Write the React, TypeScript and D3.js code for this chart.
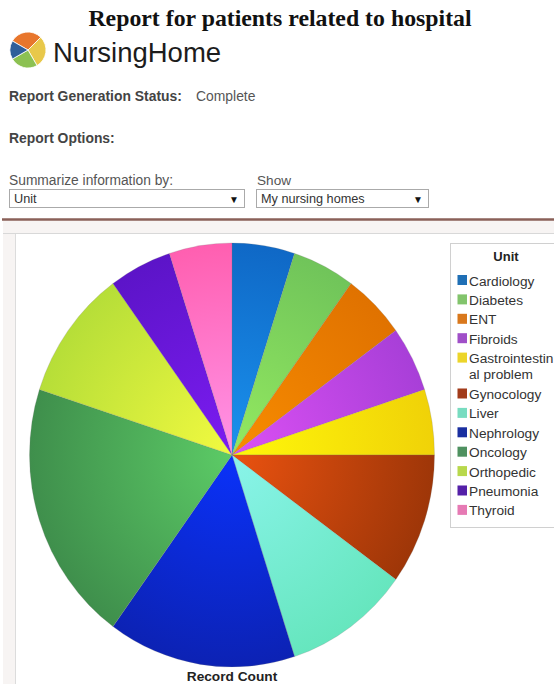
import * as d3 from "d3";

const width = 554;
const height = 684;

const units = [
  "Cardiology",
  "Diabetes",
  "ENT",
  "Fibroids",
  "Gastrointestinal problem",
  "Gynocology",
  "Liver",
  "Nephrology",
  "Oncology",
  "Orthopedic",
  "Pneumonia",
  "Thyroid",
];
const recordCounts = [1, 1, 1, 1, 1, 2, 2, 3, 4, 2, 1, 1];
// each slice is lighter at the hub and darker at the rim
const hubColors = [
  "#1a92ee",
  "#94ea60",
  "#f88c00",
  "#dc50f4",
  "#fff80a",
  "#ea5210",
  "#8af4ea",
  "#0a32fa",
  "#5ccb66",
  "#f2fa40",
  "#7c1cf2",
  "#ff94e8",
];
const rimColors = [
  "#0f68c6",
  "#70c45a",
  "#e07200",
  "#a83fd8",
  "#f0d208",
  "#9e3608",
  "#66e6be",
  "#0c22b4",
  "#3f8f4c",
  "#b6de38",
  "#5c14c8",
  "#ff5fb0",
];
const legendColors = [
  "#1f6fb5",
  "#82c46c",
  "#d9781c",
  "#a04fc8",
  "#ecd52a",
  "#a23b1a",
  "#78dcc0",
  "#1a2fa0",
  "#4f9160",
  "#b8d84c",
  "#5420a8",
  "#e67ab4",
];
const legendLines = [
  ["Cardiology"],
  ["Diabetes"],
  ["ENT"],
  ["Fibroids"],
  ["Gastrointestin", "al problem"],
  ["Gynocology"],
  ["Liver"],
  ["Nephrology"],
  ["Oncology"],
  ["Orthopedic"],
  ["Pneumonia"],
  ["Thyroid"],
];
const logoShares = [105, 105, 90, 60];
const logoColors = ["#e8762c", "#e8c84a", "#8cc152", "#2f5f9a"];

const cx = 232;
const cy = 455;
const radius = 202.5;
const radiusY = 212;
const sans = "Arial, 'Liberation Sans', sans-serif";

const pie = d3
  .pie<number>()
  .sort(null)
  .value((d) => d);
const arc = d3.arc<d3.PieArcDatum<number>>().innerRadius(0).outerRadius(radius);
const slices = pie(recordCounts);

// legend rows step down from the first one, wrapped label takes an extra line
const rowStep = 19.4;
let rowCursor = 0;
const legendRows = legendLines.map((lines, i) => {
  const row = { lines, color: legendColors[i], y: 280 + rowCursor * rowStep };
  rowCursor += lines.length === 2 ? 1.85 : 1;
  return row;
});

const Logo = () => {
  const logoArc = d3.arc<d3.PieArcDatum<number>>().innerRadius(0).outerRadius(18);
  const logoSlices = d3
    .pie<number>()
    .sort(null)
    .value((d) => d)
    .startAngle(-Math.PI / 3)
    .endAngle((5 * Math.PI) / 3)(logoShares);
  return (
    <g transform="translate(28,50)">
      {logoSlices.map((s, i) => (
        <path key={i} d={logoArc(s) ?? ""} fill={logoColors[i]} stroke="#fff" strokeWidth={0.8} />
      ))}
    </g>
  );
};

const Dropdown = ({ x, w, label }: { x: number; w: number; label: string }) => (
  <g>
    <rect x={x + 0.5} y={189.5} width={w} height={18} fill="#fff" stroke="#aaa" />
    <text x={x + 5} y={203} fontSize={12.7} fill="#333">
      {label}
    </text>
    <text x={x + w - 15} y={203} fontSize={10} fill="#111">
      ▼
    </text>
  </g>
);

const App = () => {
  return (
    <svg
      width={width}
      height={height}
      style={{ position: "absolute", left: 0, top: 0, background: "#fff" }}
      fontFamily={sans}
    >
      <text
        x={280}
        y={26}
        textAnchor="middle"
        fontFamily="'Liberation Serif', 'Times New Roman', serif"
        fontWeight="bold"
        fontSize={23.8}
        fill="#111"
      >
        Report for patients related to hospital
      </text>

      <Logo />
      <text x={53} y={62} fontSize={27.5} fill="#1c1c1c">
        NursingHome
      </text>

      <text x={9} y={101} fontSize={13.9} fontWeight="bold" fill="#444">
        Report Generation Status:
      </text>
      <text x={196} y={101} fontSize={13.9} fill="#555">
        Complete
      </text>
      <text x={9} y={143} fontSize={13.9} fontWeight="bold" fill="#444">
        Report Options:
      </text>

      <text x={9} y={185} fontSize={13.8} fill="#555">
        Summarize information by:
      </text>
      <text x={257} y={185} fontSize={13.6} fill="#555">
        Show
      </text>
      <Dropdown x={9} w={235} label="Unit" />
      <Dropdown x={256} w={172} label="My nursing homes" />

      {/* panel around the chart */}
      <rect x={3} y={219} width={551} height={465} fill="#f7f4f3" />
      <rect x={15} y={234} width={539} height={450} fill="#fff" />
      <line x1={2} x2={554} y1={219.5} y2={219.5} stroke="#8a6058" strokeWidth={2.5} />
      <line x1={3} x2={554} y1={233.5} y2={233.5} stroke="#d8d8d8" />
      <line x1={15.5} x2={15.5} y1={234} y2={684} stroke="#dcdcdc" />

      <g transform={`translate(${cx},${cy}) scale(1,${radiusY / radius})`}>
        <defs>
          {units.map((u, i) => (
            <radialGradient key={u} id={`slice-${i}`} gradientUnits="userSpaceOnUse" cx={0} cy={0} r={radius}>
              <stop offset="0" stopColor={hubColors[i]} />
              <stop offset="1" stopColor={rimColors[i]} />
            </radialGradient>
          ))}
        </defs>
        {slices.map((s, i) => (
          <path key={units[i]} d={arc(s) ?? ""} fill={`url(#slice-${i})`} stroke="#777" strokeOpacity={0.35} strokeWidth={0.6} />
        ))}
      </g>

      <text x={232} y={681} textAnchor="middle" fontSize={13.7} fontWeight="bold" fill="#222">
        Record Count
      </text>

      <rect x={450.5} y={243.5} width={110} height={284} fill="#fff" stroke="#d0d0d0" />
      <text x={506} y={261} textAnchor="middle" fontSize={13} fontWeight="bold" fill="#222">
        Unit
      </text>
      {legendRows.map((row) => (
        <g key={row.lines[0]}>
          <rect x={457.5} y={row.y - 5} width={9.5} height={10} fill={row.color} />
          {row.lines.map((line, j) => (
            <text key={line} x={469} y={row.y + 5.5 + j * 15.5} fontSize={13.7} fill="#333">
              {line}
            </text>
          ))}
        </g>
      ))}
    </svg>
  );
};

export default App;
